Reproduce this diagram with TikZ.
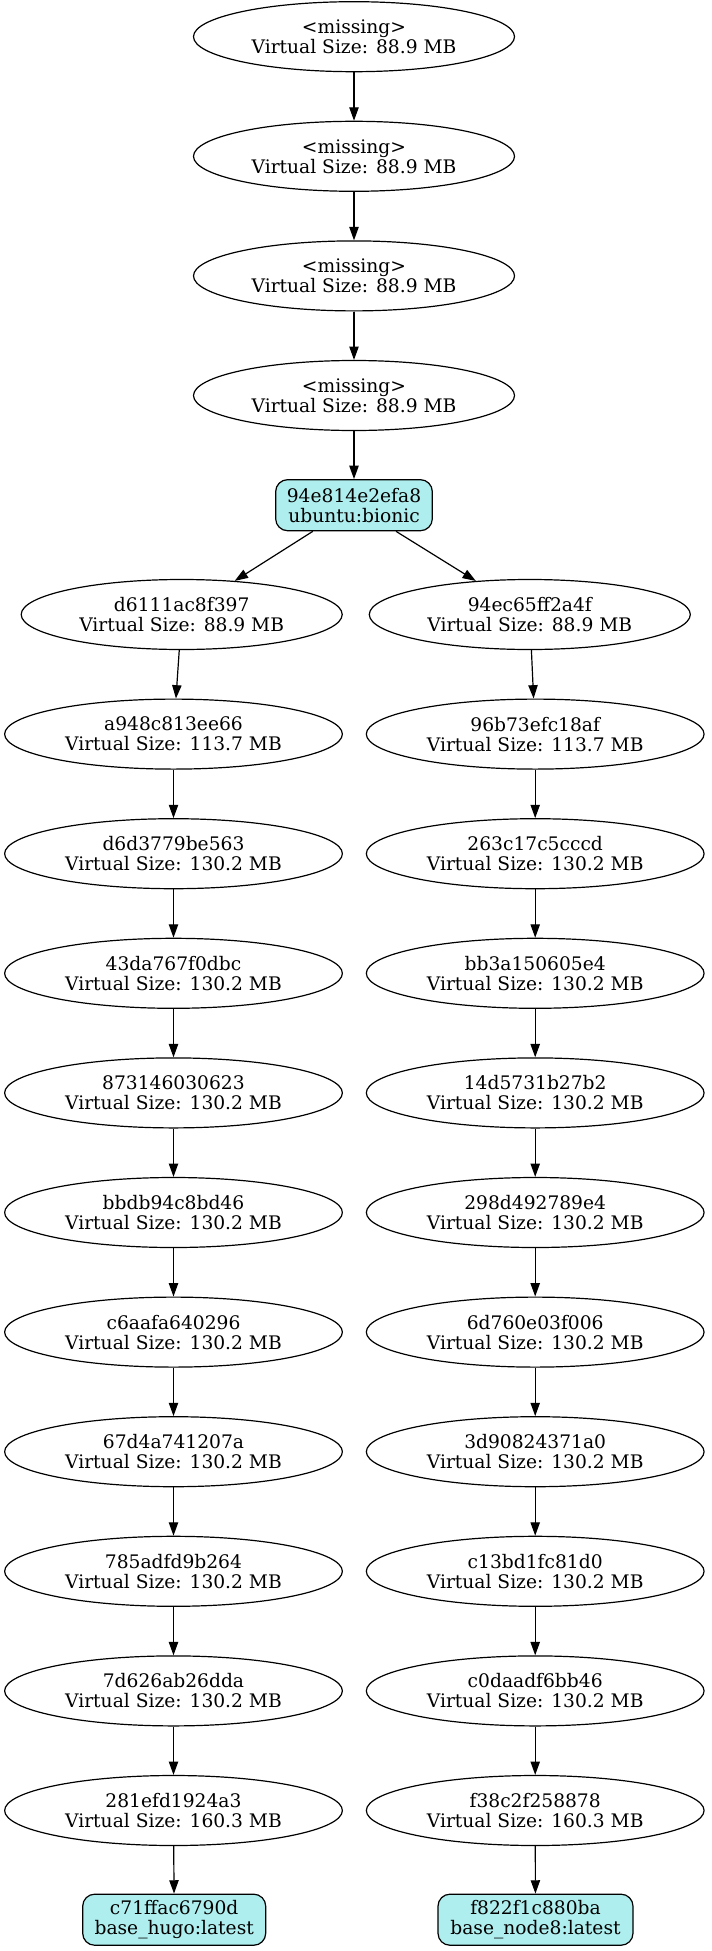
\documentclass[tikz,border=0pt]{standalone}
\usepackage{fontspec}
\setmainfont{DejaVu Serif}
\usetikzlibrary{shapes.geometric,arrows.meta}
\definecolor{paleturq}{HTML}{AFEEEE}
\tikzset{
  layer/.style={ellipse,draw=black,line width=0.9pt,inner sep=0pt,align=center,
    minimum height=52.5pt,font=\fontsize{14pt}{15pt}\selectfont},
  small/.style={layer,minimum width=240.75pt},
  big/.style={layer,minimum width=253.3pt},
  tagbox/.style={rectangle,rounded corners=9pt,draw=black,fill=paleturq,line width=0.9pt,
    inner sep=0pt,align=center,minimum height=38.3pt,font=\fontsize{14pt}{15pt}\selectfont},
  edge/.style={draw=black,line width=0.9pt,-{Triangle[length=10pt,width=7pt]}}
}
\begin{document}
\begin{tikzpicture}[x=0.75pt,y=-0.75pt]
\useasboundingbox (0,0) rectangle (712,1951);
% top chain
\node[small] (m1) at (354,36.7) {<missing>\\Virtual Size: 88.9 MB};
\node[small] (m2) at (354,156.3) {<missing>\\Virtual Size: 88.9 MB};
\node[small] (m3) at (354,275.9) {<missing>\\Virtual Size: 88.9 MB};
\node[small] (m4) at (354,395.5) {<missing>\\Virtual Size: 88.9 MB};
\node[tagbox,minimum width=117.5pt] (ub) at (354,505.2) {94e814e2efa8\\ubuntu:bionic};
% left column
\node[small] (L0) at (181.7,614.5) {d6111ac8f397\\Virtual Size: 88.9 MB};
\node[big] (L1) at (173.5,734.1) {a948c813ee66\\Virtual Size: 113.7 MB};
\node[big] (L2) at (173.5,853.7) {d6d3779be563\\Virtual Size: 130.2 MB};
\node[big] (L3) at (173.5,973.3) {43da767f0dbc\\Virtual Size: 130.2 MB};
\node[big] (L4) at (173.5,1092.9) {873146030623\\Virtual Size: 130.2 MB};
\node[big] (L5) at (173.5,1212.5) {bbdb94c8bd46\\Virtual Size: 130.2 MB};
\node[big] (L6) at (173.5,1332.1) {c6aafa640296\\Virtual Size: 130.2 MB};
\node[big] (L7) at (173.5,1451.7) {67d4a741207a\\Virtual Size: 130.2 MB};
\node[big] (L8) at (173.5,1571.3) {785adfd9b264\\Virtual Size: 130.2 MB};
\node[big] (L9) at (173.5,1690.9) {7d626ab26dda\\Virtual Size: 130.2 MB};
\node[big] (L10) at (173.5,1810.5) {281efd1924a3\\Virtual Size: 160.3 MB};
\node[tagbox,minimum width=137.25pt] (hugo) at (174.2,1919.7) {c71ffac6790d\\base\_hugo:latest};
% right column
\node[small] (R0) at (529.8,614.5) {94ec65ff2a4f\\Virtual Size: 88.9 MB};
\node[big] (R1) at (535.2,734.1) {96b73efc18af\\Virtual Size: 113.7 MB};
\node[big] (R2) at (535.2,853.7) {263c17c5cccd\\Virtual Size: 130.2 MB};
\node[big] (R3) at (535.2,973.3) {bb3a150605e4\\Virtual Size: 130.2 MB};
\node[big] (R4) at (535.2,1092.9) {14d5731b27b2\\Virtual Size: 130.2 MB};
\node[big] (R5) at (535.2,1212.5) {298d492789e4\\Virtual Size: 130.2 MB};
\node[big] (R6) at (535.2,1332.1) {6d760e03f006\\Virtual Size: 130.2 MB};
\node[big] (R7) at (535.2,1451.7) {3d90824371a0\\Virtual Size: 130.2 MB};
\node[big] (R8) at (535.2,1571.3) {c13bd1fc81d0\\Virtual Size: 130.2 MB};
\node[big] (R9) at (535.2,1690.9) {c0daadf6bb46\\Virtual Size: 130.2 MB};
\node[big] (R10) at (535.2,1810.5) {f38c2f258878\\Virtual Size: 160.3 MB};
\node[tagbox,minimum width=146.25pt] (node8) at (535.5,1919.7) {f822f1c880ba\\base\_node8:latest};
% edges
\draw[edge] (m1) -- (m2);
\draw[edge] (m2) -- (m3);
\draw[edge] (m3) -- (m4);
\draw[edge] (m4) -- (ub);
\draw[edge] (ub) -- (L0);
\draw[edge] (ub) -- (R0);
\foreach \a/\b in {L0/L1,L1/L2,L2/L3,L3/L4,L4/L5,L5/L6,L6/L7,L7/L8,L8/L9,L9/L10,L10/hugo,
                   R0/R1,R1/R2,R2/R3,R3/R4,R4/R5,R5/R6,R6/R7,R7/R8,R8/R9,R9/R10,R10/node8}
  \draw[edge] (\a) -- (\b);
\end{tikzpicture}
\end{document}
